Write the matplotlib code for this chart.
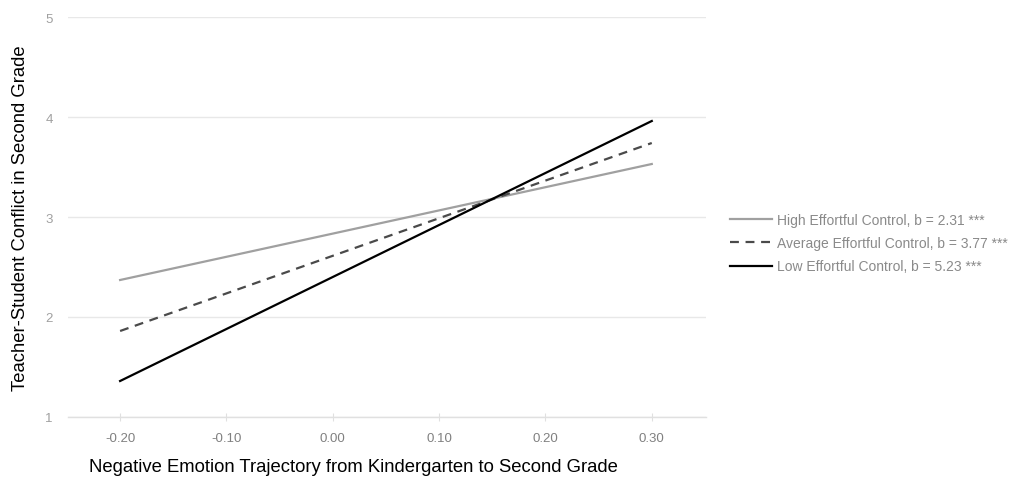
import matplotlib
matplotlib.use('Agg')
import matplotlib.pyplot as plt

# simple slopes at -0.20 and 0.30
x_vals = [-0.20, 0.30]
high_ec = [2.37, 3.53]
avg_ec = [1.86, 3.74]
low_ec = [1.36, 3.96]

labels = ['High Effortful Control, b = 2.31 ***',
          'Average Effortful Control, b = 3.77 ***',
          'Low Effortful Control, b = 5.23 ***']
x_ticks = [-0.20, -0.10, 0.00, 0.10, 0.20, 0.30]
y_ticks = [1, 2, 3, 4, 5]

plt.rcParams['font.family'] = ['Liberation Sans', 'DejaVu Sans']

fig = plt.figure(figsize=(10.18, 4.85), dpi=100)
ax = fig.add_axes([68 / 1018, 67 / 485, 638 / 1018, 400 / 485])

ax.plot(x_vals, high_ec, color='#a0a0a0', lw=1.6, label=labels[0])
ax.plot(x_vals, avg_ec, color='#4a4a4a', lw=1.6, ls=(0, (4, 3)), label=labels[1])
ax.plot(x_vals, low_ec, color='black', lw=1.6, label=labels[2])

ax.set_xlim(-0.249, 0.351)
ax.set_ylim(1, 5)
ax.set_xticks(x_ticks)
ax.set_xticklabels([f'{v:.2f}' for v in x_ticks])
ax.set_yticks(y_ticks)

for s in ['top', 'right', 'left']:
    ax.spines[s].set_visible(False)
ax.spines['bottom'].set_color('#e0e0e0')
ax.spines['bottom'].set_linewidth(1)
ax.grid(axis='y', color='#e8e8e8', lw=1)
ax.set_axisbelow(True)
ax.tick_params(axis='x', colors='#e0e0e0', labelcolor='#808080', labelsize=9.5,
               direction='inout', length=6, pad=8)
ax.tick_params(axis='y', length=0, labelcolor='#a0a0a0', labelsize=9.5, pad=11)

ax.set_xlabel('Negative Emotion Trajectory from Kindergarten to Second Grade',
              fontsize=13.3)
ax.xaxis.set_label_coords(0.448, -0.103)
ax.set_ylabel('Teacher-Student Conflict in Second Grade', fontsize=13.3)
ax.yaxis.set_label_coords(-0.061, 0.5)

leg = fig.legend(loc='center left', bbox_to_anchor=(730 / 1018, 1 - 244 / 485),
                 frameon=False, fontsize=10, handlelength=3.0, handletextpad=0.35,
                 labelspacing=0.68, borderpad=0, borderaxespad=0)
for t in leg.get_texts():
    t.set_color('#8a8a8a')

fig.savefig('out.png', dpi=100)
